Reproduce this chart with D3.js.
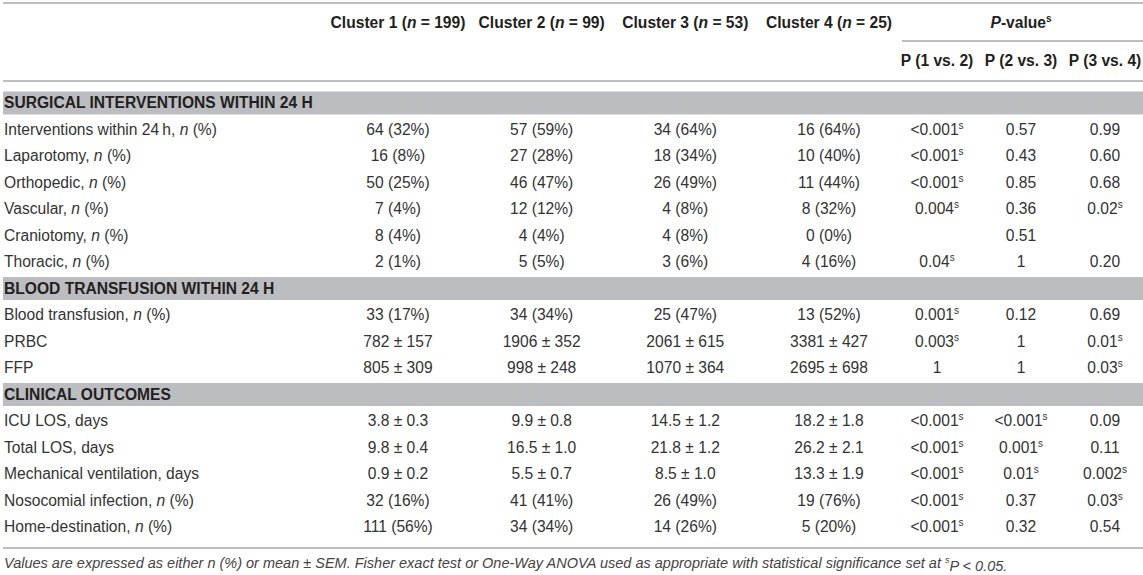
<!DOCTYPE html>
<html>
<head>
<meta charset="utf-8">
<script src="https://cdn.jsdelivr.net/npm/d3@7"></script>
<style>
  body { margin: 0; background: #fff; }
  text { font-family: "Liberation Sans", Arial, sans-serif; }
</style>
</head>
<body>
<div id="table"></div>
<script>
// columns
var clusterNames = ["Cluster 1", "Cluster 2", "Cluster 3", "Cluster 4"];
var clusterN = [199, 99, 53, 25];
var pHeaders = ["P (1 vs. 2)", "P (2 vs. 3)", "P (3 vs. 4)"];

// rows ("#" marks a section row, "{n}" an italic n)
var rowLabels = [
    "#SURGICAL INTERVENTIONS WITHIN 24 H",
    "Interventions within 24\u2009h, {n} (%)",
    "Laparotomy, {n} (%)",
    "Orthopedic, {n} (%)",
    "Vascular, {n} (%)",
    "Craniotomy, {n} (%)",
    "Thoracic, {n} (%)",
    "#BLOOD TRANSFUSION WITHIN 24 H",
    "Blood transfusion, {n} (%)",
    "PRBC",
    "FFP",
    "#CLINICAL OUTCOMES",
    "ICU LOS, days",
    "Total LOS, days",
    "Mechanical ventilation, days",
    "Nosocomial infection, {n} (%)",
    "Home-destination, {n} (%)"
];

var cluster1 = ["", "64 (32%)", "16 (8%)", "50 (25%)", "7 (4%)", "8 (4%)", "2 (1%)", "", "33 (17%)", "782 ± 157", "805 ± 309", "", "3.8 ± 0.3", "9.8 ± 0.4", "0.9 ± 0.2", "32 (16%)", "111 (56%)"];
var cluster2 = ["", "57 (59%)", "27 (28%)", "46 (47%)", "12 (12%)", "4 (4%)", "5 (5%)", "", "34 (34%)", "1906 ± 352", "998 ± 248", "", "9.9 ± 0.8", "16.5 ± 1.0", "5.5 ± 0.7", "41 (41%)", "34 (34%)"];
var cluster3 = ["", "34 (64%)", "18 (34%)", "26 (49%)", "4 (8%)", "4 (8%)", "3 (6%)", "", "25 (47%)", "2061 ± 615", "1070 ± 364", "", "14.5 ± 1.2", "21.8 ± 1.2", "8.5 ± 1.0", "26 (49%)", "14 (26%)"];
var cluster4 = ["", "16 (64%)", "10 (40%)", "11 (44%)", "8 (32%)", "0 (0%)", "4 (16%)", "", "13 (52%)", "3381 ± 427", "2695 ± 698", "", "18.2 ± 1.8", "26.2 ± 2.1", "13.3 ± 1.9", "19 (76%)", "5 (20%)"];

// "*" marks a significant p-value (superscript s)
var p12 = ["", "<0.001*", "<0.001*", "<0.001*", "0.004*", "", "0.04*", "", "0.001*", "0.003*", "1", "", "<0.001*", "<0.001*", "<0.001*", "<0.001*", "<0.001*"];
var p23 = ["", "0.57", "0.43", "0.85", "0.36", "0.51", "1", "", "0.12", "1", "1", "", "<0.001*", "0.001*", "0.01*", "0.37", "0.32"];
var p34 = ["", "0.99", "0.60", "0.68", "0.02*", "", "0.20", "", "0.69", "0.01*", "0.03*", "", "0.09", "0.11", "0.002*", "0.03*", "0.54"];

var footnote = "Values are expressed as either n (%) or mean ± SEM. Fisher exact test or One-Way ANOVA used as appropriate with statistical significance set at ";

var width = 1143, height = 575;
var left = 3, right = 1143;
var fontSize = 15.6;

var svg = d3.select("#table").append("svg")
    .attr("width", width)
    .attr("height", height);

var y = d3.scalePoint()
    .domain(d3.range(rowLabels.length))
    .range([103, 527]);

var xCluster = d3.scalePoint()
    .domain(d3.range(clusterNames.length))
    .range([398, 829]);

var xP = d3.scalePoint()
    .domain(d3.range(pHeaders.length))
    .range([937, 1105]);

// section bands
svg.selectAll(".band")
    .data(rowLabels.map(function(d, i) { return {label: d, i: i}; })
        .filter(function(d) { return d.label[0] === "#"; }))
    .enter().append("rect")
    .attr("class", "band")
    .attr("x", left)
    .attr("width", right - left)
    .attr("y", function(d) { return y(d.i) - 11.5; })
    .attr("height", 23)
    .attr("fill", "#bcbdc0");

// rules
function rule(x1, x2, yy) {
    svg.append("line")
        .attr("x1", x1).attr("x2", x2)
        .attr("y1", yy).attr("y2", yy)
        .attr("stroke", "#a9a9a9")
        .attr("stroke-width", 1.5);
}
rule(left, right, 3);
rule(left, right, 81);
rule(902, right, 41);
rule(left, right, 548);

// header
var head = svg.append("g")
    .attr("font-size", fontSize)
    .attr("font-weight", "bold")
    .attr("fill", "#231f20")
    .attr("text-anchor", "middle");

clusterNames.forEach(function(name, i) {
    var t = head.append("text")
        .attr("x", xCluster(i))
        .attr("y", 23)
        .attr("dy", "0.35em");
    t.append("tspan").text(name + " (");
    t.append("tspan").attr("font-style", "italic").text("n");
    t.append("tspan").text(" = " + clusterN[i] + ")");
});

var pv = head.append("text")
    .attr("x", xP(1))
    .attr("y", 23)
    .attr("dy", "0.35em");
pv.append("tspan").attr("font-style", "italic").text("P");
pv.append("tspan").text("-value");
pv.append("tspan").attr("font-size", 10).attr("dy", "-0.6em").text("s");

pHeaders.forEach(function(h, i) {
    head.append("text")
        .attr("x", xP(i))
        .attr("y", 61)
        .attr("dy", "0.35em")
        .text(h);
});

// row labels
var body = svg.append("g")
    .attr("font-size", fontSize)
    .attr("fill", "#333");

rowLabels.forEach(function(label, i) {
    var t = body.append("text")
        .attr("x", 4)
        .attr("y", y(i))
        .attr("dy", "0.35em");
    if (label[0] === "#") {
        t.attr("font-weight", "bold").attr("fill", "#231f20").text(label.slice(1));
        return;
    }
    var parts = label.split("{n}");
    t.append("tspan").text(parts[0]);
    if (parts.length > 1) {
        t.append("tspan").attr("font-style", "italic").text("n");
        t.append("tspan").text(parts[1]);
    }
});

// cluster values
[cluster1, cluster2, cluster3, cluster4].forEach(function(col, c) {
    col.forEach(function(v, i) {
        if (!v) return;
        body.append("text")
            .attr("x", xCluster(c))
            .attr("y", y(i))
            .attr("dy", "0.35em")
            .attr("text-anchor", "middle")
            .text(v);
    });
});

// p-values
[p12, p23, p34].forEach(function(col, c) {
    col.forEach(function(v, i) {
        if (!v) return;
        var sig = v.slice(-1) === "*";
        var t = body.append("text")
            .attr("x", xP(c))
            .attr("y", y(i))
            .attr("dy", "0.35em")
            .attr("text-anchor", "middle");
        t.append("tspan").text(sig ? v.slice(0, -1) : v);
        if (sig) {
            t.append("tspan").attr("font-size", 10).attr("dy", "-0.6em").text("s");
        }
    });
});

// footnote
var foot = svg.append("text")
    .attr("x", 4)
    .attr("y", 563)
    .attr("dy", "0.35em")
    .attr("font-size", 14.5)
    .attr("font-style", "italic")
    .attr("fill", "#444");
foot.append("tspan").text(footnote);
foot.append("tspan").attr("font-size", 9).attr("dy", "-0.6em").text("s");
foot.append("tspan").attr("dy", "0.6em").text("P < 0.05.");
</script>
</body>
</html>
